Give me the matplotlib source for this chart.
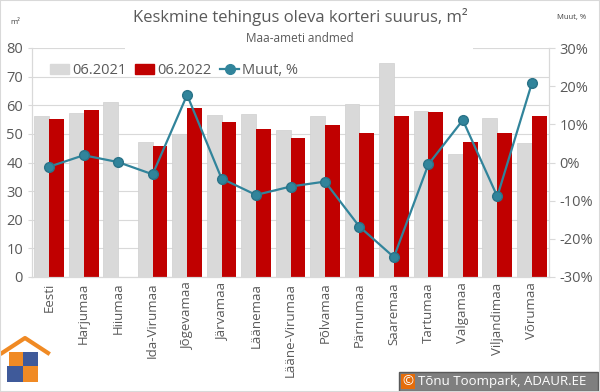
import matplotlib
matplotlib.use("Agg")
from matplotlib import pyplot as plt
from matplotlib import patches
from matplotlib.lines import Line2D
import numpy as np

plt.rcParams['font.family'] = ['Open Sans', 'DejaVu Sans']

# data
regions = ["Eesti", "Harjumaa", "Hiiumaa", "Ida-Virumaa", "Jõgevamaa", "Järvamaa",
           "Läänemaa", "Lääne-Virumaa", "Põlvamaa", "Pärnumaa", "Saaremaa",
           "Tartumaa", "Valgamaa", "Viljandimaa", "Võrumaa"]
size_2021 = [56.2, 57.4, 61.3, 47.3, 50.1, 56.5, 56.8, 51.5, 56.2, 60.6, 74.8,
             57.9, 42.9, 55.4, 46.7]
size_2022 = [55.2, 58.5, np.nan, 45.6, 59.2, 54.0, 51.8, 48.4, 53.2, 50.2, 56.2,
             57.6, 47.3, 50.2, 56.2]
change_pct = [-1.1, 1.9, 0.1, -3.1, 17.7, -4.2, -8.5, -6.3, -5.0, -16.8, -24.8,
              -0.5, 11.1, -8.9, 20.7]
left_ticks = [0, 10, 20, 30, 40, 50, 60, 70, 80]
right_ticks = [-30, -20, -10, 0, 10, 20, 30]

GRAY = "#D9D9D9"
RED = "#C00000"
TEAL = "#31849B"
TXT = "#595959"

fig = plt.figure(figsize=(6, 3.92), dpi=100)
ax = fig.add_axes([32/600, 1-277/392, (549-32)/600, (277-48)/392])
ax2 = ax.twinx()

x = np.arange(len(regions))
w = 0.43
ax.bar(x - w/2, size_2021, w, color=GRAY, edgecolor="#CFCFCF", linewidth=0.5, zorder=2, label="06.2021")
ax.bar(x + w/2, size_2022, w, color=RED, zorder=2, label="06.2022")
ax.set_ylim(0, 80)
ax.set_xlim(-0.5, len(regions) - 0.5)
ax.set_yticks(left_ticks)
ax.set_xticks(x)
ax.set_xticklabels(regions, rotation=90, fontsize=9.5, color=TXT)
ax.yaxis.grid(True, color=GRAY, linewidth=0.8, zorder=0)
ax.set_axisbelow(True)
ax.tick_params(axis='y', labelsize=10.5, labelcolor=TXT, length=3, color=GRAY)
ax.tick_params(axis='x', length=0, pad=4)

ax2.plot(x, change_pct, color=TEAL, linewidth=1.6, marker='o', markersize=7,
         markerfacecolor=TEAL, markeredgecolor="#2A7388", zorder=5)
ax2.set_ylim(-30, 30)
ax2.set_yticks(right_ticks)
ax2.set_yticklabels(["%d%%" % t for t in right_ticks])
ax2.tick_params(axis='y', labelsize=10.5, labelcolor=TXT, length=4, color=GRAY)

for a in (ax, ax2):
    a.spines["top"].set_visible(False)
    a.spines["left"].set_color(GRAY)
    a.spines["right"].set_color(GRAY)
    a.spines["bottom"].set_color(GRAY)

handles = [patches.Patch(color=GRAY), patches.Patch(color=RED),
           Line2D([0], [0], color=TEAL, linewidth=1.6, marker='o', markersize=7)]
ax2.legend(handles, ["06.2021", "06.2022", "Muut, %"], loc="upper left",
           bbox_to_anchor=(0.01, 0.99), ncol=3, frameon=False, fontsize=10.5,
           handlelength=1.3, handletextpad=0.2, columnspacing=0.6, labelcolor=TXT)

# title box hides the top grid line
fig.patches.append(patches.Rectangle((125/600, 1-50/392), 348/600, 50/392,
                                     transform=fig.transFigure, facecolor="white",
                                     edgecolor="none", zorder=10))
fig.text(0.5, 1-17/392, "Keskmine tehingus oleva korteri suurus, m²", ha="center",
         va="center", fontsize=12, color=TXT, zorder=11)
fig.text(0.5, 1-38/392, "Maa-ameti andmed", ha="center", va="center",
         fontsize=8.5, color=TXT, zorder=11)
fig.text(15/600, 1-22/392, "m²", ha="center", va="center", fontsize=5.5, color="#404040")
fig.text(572/600, 1-17/392, "Muut, %", ha="center", va="center", fontsize=5.5, color="#404040")

# logo
def frect(x0, y0, w0, h0, c):
    fig.patches.append(patches.Rectangle((x0/600, 1-(y0+h0)/392), w0/600, h0/392,
                                         transform=fig.transFigure, facecolor=c,
                                         edgecolor="none", zorder=10))
ORANGE = "#F08A24"
BLUE = "#3F5A9A"
fig.lines.append(Line2D([2/600, 25/600, 48/600], [1-353/392, 1-338/392, 1-353/392],
                        transform=fig.transFigure, color=ORANGE, linewidth=3, zorder=10))
frect(9, 352, 14, 14, ORANGE)
frect(23, 352, 15, 14, BLUE)
frect(7, 366, 16, 16, BLUE)
frect(23, 366, 15, 16, ORANGE)

# copyright box
fig.patches.append(patches.Rectangle((399/600, 1-391/392), 199/600, 19/392,
                                     transform=fig.transFigure, facecolor="#7F7F7F",
                                     edgecolor="#595959", linewidth=1, zorder=10))
frect(401, 374, 14, 15, "#E46C0A")
fig.text(408/600, 1-381.5/392, "©", ha="center", va="center", fontsize=9.5,
         color="white", zorder=11)
fig.text(418/600, 1-381.5/392, "Tõnu Toompark, ADAUR.EE", ha="left", va="center",
         fontsize=9.5, color="white", zorder=11)

# outer frame
fig.patches.append(patches.Rectangle((0, 0), 1, 1, transform=fig.transFigure,
                                     facecolor="none", edgecolor=GRAY, linewidth=1.5,
                                     zorder=12))

fig.savefig("out.png", dpi=100)
